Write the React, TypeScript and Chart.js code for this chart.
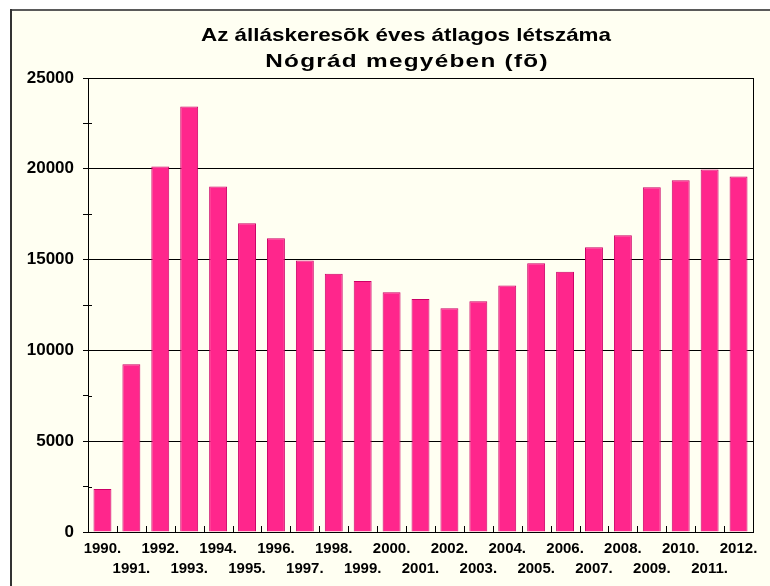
import React, { useEffect, useRef } from 'react';
import { Chart, registerables } from 'chart.js';

Chart.register(...registerables);

const years = [1990, 1991, 1992, 1993, 1994, 1995, 1996, 1997, 1998, 1999, 2000, 2001, 2002, 2003, 2004, 2005, 2006, 2007, 2008, 2009, 2010, 2011, 2012];
const yearLabels = years.map((y) => y + '.');
const jobseekers = [2370, 9240, 20120, 23430, 19020, 17000, 16170, 14950, 14220, 13820, 13200, 12830, 12320, 12700, 13580, 14800, 14330, 15680, 16340, 18990, 19370, 19960, 19570];
const titleLines = ['Az álláskeresõk éves átlagos létszáma', 'Nógrád megyében (fõ)'];
const yMax = 25000;
const yMajorStep = 5000;
const yMinorStep = 2500;

const FONT = '"Liberation Sans", Arial, sans-serif';
const CREAM = '#FFFFF2';
const BAR_FILL = '#FF268C';
const BAR_EDGE = '#CC0066';

export default function App() {
  const ref = useRef<HTMLCanvasElement>(null);

  useEffect(() => {
    const canvas = ref.current;
    if (!canvas) return;

    const framePlugin = {
      id: 'framePlugin',
      beforeDraw(chart: any) {
        const { ctx, width, height } = chart;
        ctx.save();
        ctx.fillStyle = '#FFFFFF';
        ctx.fillRect(0, 0, width, height);
        ctx.fillStyle = CREAM;
        ctx.fillRect(10, 9, width - 10, height - 9);
        ctx.fillStyle = '#5a5a5a';
        ctx.fillRect(10, 9, width - 10, 2);
        ctx.fillStyle = '#333333';
        ctx.fillRect(10, 9, 2, height - 9);
        ctx.restore();
      },
      afterDraw(chart: any) {
        const { ctx, chartArea } = chart;
        const xs = chart.scales.x;
        const ys = chart.scales.y;
        ctx.save();
        ctx.strokeStyle = '#000';
        ctx.lineWidth = 1;
        ctx.beginPath();
        ctx.moveTo(Math.round(chartArea.right) + 0.5, chartArea.top);
        ctx.lineTo(Math.round(chartArea.right) + 0.5, chartArea.bottom);
        ctx.stroke();
        ctx.beginPath();
        for (let i = 1; i < yearLabels.length; i++) {
          const x = Math.round((xs.getPixelForTick(i - 1) + xs.getPixelForTick(i)) / 2) + 0.5;
          ctx.moveTo(x, chartArea.bottom);
          ctx.lineTo(x, chartArea.bottom - 6);
        }
        for (let v = yMinorStep; v < yMax; v += yMajorStep) {
          const y = Math.round(ys.getPixelForValue(v)) + 0.5;
          ctx.moveTo(chartArea.left, y);
          ctx.lineTo(chartArea.left + 4, y);
        }
        ctx.stroke();
        ctx.fillStyle = '#000';
        ctx.font = `bold 19px ${FONT}`;
        ctx.textAlign = 'center';
        ctx.textBaseline = 'alphabetic';
        const baselines = [41, 66.5];
        const stretch = [1.18, 1.28];
        const spacing = ['0px', '1px'];
        titleLines.forEach((line, i) => {
          ctx.save();
          ctx.translate(i === 0 ? 406 : 407, baselines[i]);
          ctx.scale(stretch[i], 1);
          (ctx as any).letterSpacing = spacing[i];
          ctx.fillText(line, 0, 0);
          ctx.restore();
        });
        ctx.restore();
      },
    };

    const chart = new Chart(canvas, {
      type: 'bar',
      data: {
        labels: yearLabels.map((l, i) => (i % 2 === 0 ? [l, ''] : ['', l])),
        datasets: [
          {
            data: jobseekers,
            backgroundColor: BAR_FILL,
            borderColor: BAR_EDGE,
            borderWidth: 1,
            categoryPercentage: 1,
            barPercentage: 0.62,
          },
        ],
      },
      options: {
        animation: false,
        responsive: false,
        maintainAspectRatio: false,
        devicePixelRatio: 1,
        layout: { padding: { top: 78, right: 17, left: 0, bottom: 0 } },
        plugins: { legend: { display: false }, title: { display: false }, tooltip: { enabled: false } },
        scales: {
          x: {
            grid: { display: true, drawOnChartArea: false, drawTicks: false, offset: true },
            border: { display: true, color: '#000', width: 1 },
            ticks: {
              color: '#000',
              font: { family: FONT, size: 15, weight: 'bold', lineHeight: 20 / 15 },
              maxRotation: 0,
              minRotation: 0,
              autoSkip: false,
              padding: 7,
            },
            afterFit(scale: any) {
              scale.height = 54;
            },
          },
          y: {
            min: 0,
            max: yMax,
            grid: {
              color: (c: any) => (c.tick && c.tick.value % yMajorStep === 0 ? '#000' : 'rgba(0,0,0,0)'),
              tickColor: '#000',
              tickLength: 5,
              lineWidth: 1,
            },
            border: { display: true, color: '#000', width: 1 },
            ticks: {
              stepSize: yMinorStep,
              color: '#000',
              font: { family: FONT, size: 17, weight: 'bold' },
              padding: 9,
              callback: (v: any) => (Number(v) % yMajorStep === 0 ? String(v) : ''),
            },
            afterFit(scale: any) {
              scale.width = 88;
            },
          },
        },
      },
      plugins: [framePlugin],
    });

    return () => chart.destroy();
  }, []);

  return (
    <div style={{ position: 'absolute', left: 0, top: 0, width: 770, height: 586 }}>
      <canvas ref={ref} width={770} height={586} style={{ display: 'block', width: 770, height: 586 }} />
    </div>
  );
}
